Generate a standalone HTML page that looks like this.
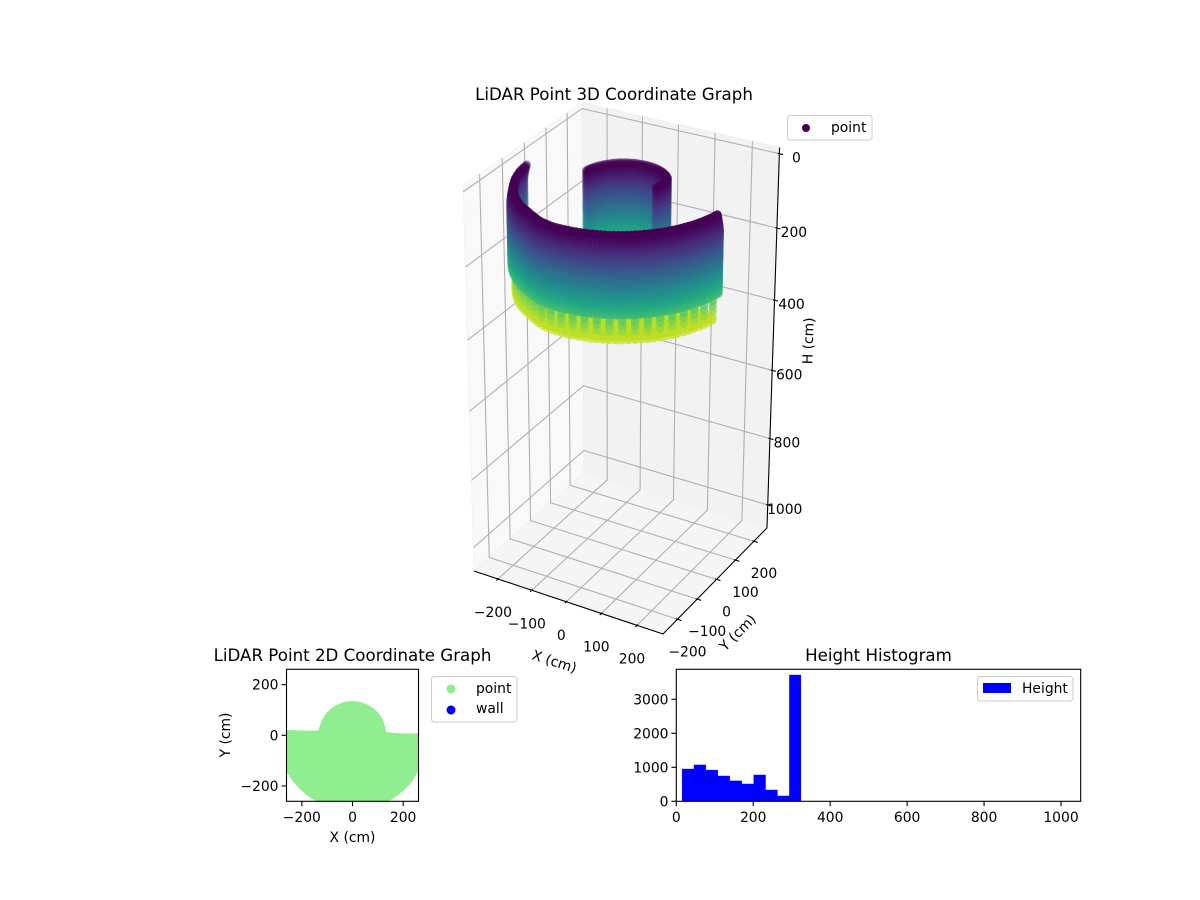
<!DOCTYPE html>
<html>
<head>
<meta charset="utf-8">
<title>LiDAR Point Graphs</title>
<style>
html,body{margin:0;padding:0;background:#fff;}
svg{display:block;}
text{font-family:"DejaVu Sans","Liberation Sans",sans-serif;font-size:13.89px;fill:#000;}
.title{font-size:16.67px;text-anchor:middle;}
</style>
</head>
<body>
<svg id="figure" xmlns="http://www.w3.org/2000/svg" width="1200" height="900" viewBox="0 0 1200 900">
  <defs>
    <clipPath id="clip2d"><rect x="286.5" y="669.3" width="132" height="132"/></clipPath>
  </defs>
  <rect x="0" y="0" width="1200" height="900" fill="#fff"/>
  <g id="axes3d"></g>
  <g id="scatter3d"></g>
  <g id="labels3d"></g>
  <text class="title" x="614" y="100">LiDAR Point 3D Coordinate Graph</text>
  <text text-anchor="middle" transform="translate(553,666) rotate(18)">X (cm)</text>
  <text text-anchor="middle" transform="translate(741,636) rotate(-45)">Y (cm)</text>
  <text text-anchor="middle" transform="translate(813,341) rotate(-88.2)">H (cm)</text>
  <g>
    <rect x="787.5" y="115.5" width="84.5" height="24.5" rx="3" fill="#fff" fill-opacity="0.8" stroke="#ccc"/>
    <circle cx="806" cy="128" r="4" fill="#440154"/>
    <text x="831" y="132">point</text>
  </g>

  <text class="title" x="352.5" y="661">LiDAR Point 2D Coordinate Graph</text>
  <g id="plot2d"></g>
  <text text-anchor="middle" x="352.5" y="842">X (cm)</text>
  <text text-anchor="middle" transform="translate(230,735) rotate(-90)">Y (cm)</text>
  <g>
    <rect x="431.5" y="676.5" width="85.5" height="45.5" rx="3" fill="#fff" fill-opacity="0.8" stroke="#ccc"/>
    <circle cx="451" cy="689" r="4.5" fill="#90ee90"/>
    <circle cx="451" cy="710" r="4.5" fill="#0000ff"/>
    <text x="476" y="693">point</text>
    <text x="476" y="713">wall</text>
  </g>

  <text class="title" x="878.5" y="661">Height Histogram</text>
  <g id="hist"></g>
  <g>
    <rect x="977.5" y="676.5" width="95.5" height="24.5" rx="3" fill="#fff" fill-opacity="0.8" stroke="#ccc"/>
    <rect x="983" y="683" width="28" height="10" fill="#0000ff"/>
    <text x="1022" y="693">Height</text>
  </g>
</svg>
<script>
/* ---------- 3D chart data ---------- */
var xTicks3d = [-200, -100, 0, 100, 200];
var yTicks3d = [-200, -100, 0, 100, 200];
var hTicks3d = [0, 200, 400, 600, 800, 1000];
var frontAngles = [186,188,190,192,194,196,198,200,202,204,206,208,210,212,214,216,218,220,222,224,226,228,230,232,234,236,238,240,242,244,246,248,250,252,254,256,258,260,262,264,266,268,270,272,274,276,278,280,282,284,286,288,290,292,294,296,298,300,302,304,306,308,310,312,314,316,318,320,322,324,326,328,330,332,334,336,338,340,342,344,346,348,350];
var frontRadii = [251,251,252,252,253,253,253,254,254,255,255,255,256,256,257,257,258,259,259,260,261,262,262,263,264,265,266,266,267,267,268,270,271,273,275,277,279,280,281,282,282,282,282,282,282,282,282,282,282,282,282,282,282,282,282,282,282,282,282,282,282,282,282,282,282,282,282,282,282,282,282,282,282,282,282,282,282,282,282,282,282,282,282];
var wallHeights = [20,25,30,35,40,45,50,55,60,65,70,75,80,85,90,95,100,105,110,115,120,125,130,135,140,145,150,155,160,165,170,175,180,185,190,195,200,205,210,215,220,225];
var wallFlare = [0,2,3,4,5,6,7,7,8,8,8,8,8,8,8,8,8,8,8,8,8,8,8,8,8,8,8,8,8,8,8,8,8,8,8,8,8,8,8,8,8,8];
var backAngles = [8,12,16,20,24,28,32,36,40,44,48,52,56,60,64,68,72,76,80,84,88,92,96,100,104,108,112,116,120,124,128,132,136,140,144,148,152,156,160,164,168,172];
var backRadii = [86,89,92,95,98,101,104,106,108,108,108,108,108,108,108,108,108,108,108,108,108,108,108,108,108,108,108,108,108,108,108,108,108,108,108,108,108,108,108,108,108,108];
var floorAngles = [204,207,210,213,216,219,222,225,228,231,234,237,240,243,246,249,252,255,258,261,264,267,270,273,276,279,282,285,288,291,294,297,300,303,306,309,312,315,318,321,324,327,330,333,336,339,342,345,348];
var floorRadii = [255,255,256,257,257,258,259,260,262,263,264,265,266,267,268,271,273,276,279,281,282,282,282,282,282,282,282,282,282,282,282,282,282,282,282,282,282,282,282,282,282,282,282,282,282,282,282,282,282];
var floorHeights = [288,296];
var floorInsets = [0,15,30,45,60,80,100,120];
var ringAngles = [204,210,216,222,228,234,240,246,252,258,264,270,276,282,288,294,300,306,312,318,324,330,336,342,348];
var ringRadii = [255,256,257,259,262,264,266,268,273,279,282,282,282,282,282,282,282,282,282,282,282,282,282,282,282];
var ringHeights = [245,258,272];

/* ---------- 2D chart data ---------- */
var xTicks2d = [-200, 0, 200];
var yTicks2d = [-200, 0, 200];
var outlineX = [-300,-260,-200,-135,-130,-120,-110,-100,-90,-75,-60,-45,-30,-15,0,15,30,45,60,75,90,100,110,120,130,134,200,259,300,300,259,240,220,200,175,150,125,100,0,-100,-125,-150,-175,-200,-220,-240,-260,-300];
var outlineY = [22,21,19,18,36,62,78,91,101,112,121,127,132,134,135,134,132,127,121,112,101,91,78,62,30,12,7,8,8,-110,-141,-175,-200,-220,-240,-256,-269,-279,-297,-279,-269,-256,-240,-220,-200,-175,-143,-110];

/* ---------- Histogram data ---------- */
var binEdges = [15,46,77,108,139,170,201,232,263,294,324];
var binCounts = [950,1070,920,745,600,510,775,333,157,3715];
var histXTicks = [0,200,400,600,800,1000];
var histYTicks = [0,1000,2000,3000];

var NS = 'http://www.w3.org/2000/svg';
function mk(tag, parent, attrs){
  var el = document.createElementNS(NS, tag);
  for (var k in attrs) el.setAttribute(k, attrs[k]);
  parent.appendChild(el);
  return el;
}
function minus(v){ return String(v).replace('-', '\u2212'); }

/* ---------- 3D projection ---------- */
function U(x){ return 0.5 + x * 0.00184; }
function V(y){ return 0.5 + y * 0.00184; }
function W(h){ return 0.985 - h * 0.00092; }
function depth(u, v, w){ return 1 - 0.04515 * u + 0.05844 * v - 0.075 * w; }
function projWith(u, v, w, lift){
  var d = depth(u, v, w);
  return [(474 + 159.06 * u + 144.1 * v - 45.7 * w) / d,
          (571 + 34.37 * u - 70.4 * v - 395.25 * w) / d - lift * w * (1 - 0.7 * u)];
}
function proj(u, v, w){ return projWith(u, v, w, 4.5); }
function projPoint(u, v, w){ return projWith(u, v, w, 1.8); }
function ptsStr(list){
  return list.map(function(p){ var q = proj(p[0], p[1], p[2]); return q[0].toFixed(2) + ',' + q[1].toFixed(2); }).join(' ');
}

var axes3d = document.getElementById('axes3d');
var labels3d = document.getElementById('labels3d');

var paneLeft = mk('polygon', axes3d, {points: ptsStr([[0,0,0],[0,0,1],[0,1,1],[0,1,0]]), fill: '#f9f9f9', stroke: '#f3f3f3'});


var paneBack = mk('polygon', axes3d, {points: ptsStr([[0,1,0],[0,1,1],[1,1,1],[1,1,0]]), fill: '#f2f2f2', stroke: '#efefef'});


var paneFloor = mk('polygon', axes3d, {points: ptsStr([[0,0,0],[1,0,0],[1,1,0],[0,1,0]]), fill: '#f5f5f5', stroke: '#f0f0f0'});



var gridStyle = {fill: 'none', stroke: '#b0b0b0', 'stroke-width': 1.1};
function gridLine(list){
  var a = {points: ptsStr(list)};
  for (var k in gridStyle) a[k] = gridStyle[k];
  return mk('polyline', axes3d, a);
}
function tickLine(a, b){
  var p = proj(a[0], a[1], a[2]), q = proj(b[0], b[1], b[2]);
  return mk('line', labels3d, {x1: p[0], y1: p[1], x2: q[0], y2: q[1], stroke: '#000', 'stroke-width': 1.1});
}
function label3d(txt, x, y){
  return mk('text', labels3d, {x: x, y: y, 'text-anchor': 'middle'});
}

xTicks3d.forEach(function(t){
  var u = U(t);
  var g = gridLine([[u,0,0],[u,1,0],[u,1,1]]);
  
  
  var tk = tickLine([u,-0.014,0],[u,0.008,0]);
  
  
  var p = proj(u, 0, 0);
  var l = label3d(t, p[0] - 5, p[1] + 38);
  l.textContent = minus(t);
  
  
});
yTicks3d.forEach(function(t){
  var v = V(t);
  var g = gridLine([[1,v,0],[0,v,0],[0,v,1]]);
  
  
  var tk = tickLine([0.992,v,0],[1.02,v,0]);
  
  
  var p = proj(1, v, 0);
  var l = label3d(t, p[0] + 10, p[1] + 37);
  l.textContent = minus(t);
  
  
});
hTicks3d.forEach(function(t){
  var w = W(t);
  var g = gridLine([[0,0,w],[0,1,w],[1,1,w]]);
  
  
  var tk = tickLine([0.992,1,w],[1.018,1,w]);
  
  
  var p = proj(1, 1, w);
  var l = label3d(t, p[0] + 17, p[1] + 9);
  l.textContent = minus(t);
  
  
});
var axisLine = mk('polyline', labels3d, {points: ptsStr([[0,0,0],[1,0,0],[1,1,0],[1,1,1]]), fill: 'none', stroke: '#000', 'stroke-width': 1.1});



/* ---------- Colormap ---------- */
var viridisStops = [[68,1,84],[72,36,117],[65,68,135],[53,95,141],[42,120,142],[33,145,140],[34,168,132],[68,191,112],[122,209,81],[189,223,38],[253,231,37]];
function viridis(t){
  t = Math.max(0, Math.min(1, t)) * 10;
  var i = Math.min(9, Math.floor(t)), f = t - i, a = viridisStops[i], b = viridisStops[i + 1];
  return 'rgb(' + Math.round(a[0] + (b[0] - a[0]) * f) + ',' + Math.round(a[1] + (b[1] - a[1]) * f) + ',' + Math.round(a[2] + (b[2] - a[2]) * f) + ')';
}
function colorForHeight(h){ return viridis((h - 20) / 300); }

/* ---------- Point cloud ---------- */
var cloud = [];
function addPoint(angle, radius, h){
  var rad = angle * Math.PI / 180;
  var u = U(radius * Math.cos(rad)), v = V(radius * Math.sin(rad)), w = W(h);
  cloud.push({u: u, v: v, w: w, h: h, d: depth(u, v, w)});
}
frontAngles.forEach(function(a, i){
  wallHeights.forEach(function(h, j){ addPoint(a, frontRadii[i] + wallFlare[j], h); });
});
backAngles.forEach(function(a, i){
  wallHeights.forEach(function(h){ addPoint(a, backRadii[i], h); });
});
floorAngles.forEach(function(a, i){
  floorHeights.forEach(function(h){
    floorInsets.forEach(function(inset){ addPoint(a, floorRadii[i] - inset, h); });
  });
});
ringAngles.forEach(function(a, i){
  ringHeights.forEach(function(h){ addPoint(a, ringRadii[i], h); });
});
cloud.sort(function(p, q){ return q.d - p.d; });
var dMax = cloud[0].d, dMin = cloud[cloud.length - 1].d;
var scatter3d = document.getElementById('scatter3d');
cloud.forEach(function(p){
  var q = projPoint(p.u, p.v, p.w);
  var c = document.createElementNS(NS, 'circle');
  c.setAttribute('cx', q[0].toFixed(1));
  c.setAttribute('cy', q[1].toFixed(1));
  c.setAttribute('r', '4.3');
  c.setAttribute('fill', colorForHeight(p.h));
  c.setAttribute('fill-opacity', (1 - 0.6 * (p.d - dMin) / (dMax - dMin)).toFixed(2));
  
  
  scatter3d.appendChild(c);
});

/* ---------- 2D plot ---------- */
var plot2d = document.getElementById('plot2d');
function sx2(x){ return 352.5 + x * 0.2533; }
function sy2(y){ return 735.3 - y * 0.2533; }
var outlinePts = outlineX.map(function(x, i){ return sx2(x).toFixed(1) + ',' + sy2(outlineY[i]).toFixed(1); }).join(' ');
var silhouette = mk('polygon', plot2d, {points: outlinePts, fill: '#90ee90', 'clip-path': 'url(#clip2d)'});


var frame2d = mk('rect', plot2d, {x: 286.5, y: 669.3, width: 132, height: 132, fill: 'none', stroke: '#000', 'stroke-width': 1.1});


xTicks2d.forEach(function(t){
  var x = sx2(t);
  var tk = mk('line', plot2d, {x1: x, y1: 801.3, x2: x, y2: 806.2, stroke: '#000', 'stroke-width': 1.1});
  
  
  var l = mk('text', plot2d, {x: x, y: 822, 'text-anchor': 'middle'});
  l.textContent = minus(t);
  
  
});
yTicks2d.forEach(function(t){
  var y = sy2(t);
  var tk = mk('line', plot2d, {x1: 286.5, y1: y, x2: 281.6, y2: y, stroke: '#000', 'stroke-width': 1.1});
  
  
  var l = mk('text', plot2d, {x: 278.5, y: y + 5, 'text-anchor': 'end'});
  l.textContent = minus(t);
  
  
});

/* ---------- Histogram ---------- */
var hist = document.getElementById('hist');
function sxH(x){ return 676.3 + x * 0.3847; }
function syH(y){ return 801.3 - y * 0.034; }
binCounts.forEach(function(c, i){
  var x0 = sxH(binEdges[i]), x1 = sxH(binEdges[i + 1]);
  var b = mk('rect', hist, {x: x0, y: syH(c), width: x1 - x0, height: syH(0) - syH(c), fill: '#0000ff', stroke: '#0000ff', 'stroke-width': 0.3});
  
  
});
var frameH = mk('rect', hist, {x: 676.3, y: 669.3, width: 404.4, height: 132, fill: 'none', stroke: '#000', 'stroke-width': 1.1});


histXTicks.forEach(function(t){
  var x = sxH(t);
  var tk = mk('line', hist, {x1: x, y1: 801.3, x2: x, y2: 806.2, stroke: '#000', 'stroke-width': 1.1});
  
  
  var l = mk('text', hist, {x: x, y: 822, 'text-anchor': 'middle'});
  l.textContent = String(t);
  
  
});
histYTicks.forEach(function(t){
  var y = syH(t);
  var tk = mk('line', hist, {x1: 676.3, y1: y, x2: 671.4, y2: y, stroke: '#000', 'stroke-width': 1.1});
  
  
  var l = mk('text', hist, {x: 668.5, y: y + 5, 'text-anchor': 'end'});
  l.textContent = String(t);
  
  
});
</script>
</body>
</html>
